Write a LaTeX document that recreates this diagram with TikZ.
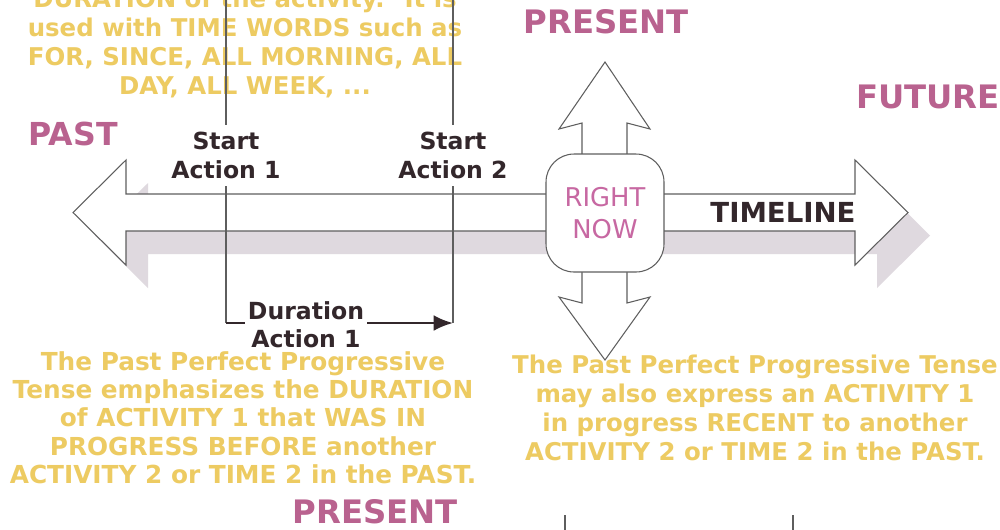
\documentclass[tikz,border=0pt]{standalone}
\usepackage{fontspec}
\setmainfont{DejaVu Sans}
\usetikzlibrary{arrows.meta}
\definecolor{pinkT}{HTML}{B9628F}
\definecolor{nowpink}{HTML}{C768A2}
\definecolor{gold}{HTML}{EDCB62}
\definecolor{darktxt}{HTML}{33272B}
\definecolor{outl}{HTML}{5E5E5E}
\definecolor{shadowcol}{HTML}{DFD9DF}
\begin{document}
\begin{tikzpicture}[x=0.02cm,y=-0.02cm,
  title/.style={font=\fontsize{18.4}{20}\selectfont\bfseries, text=pinkT, inner sep=0pt, anchor=base},
  note/.style={font=\fontsize{14.1}{16.44}\selectfont\bfseries, text=gold, align=center, inner sep=0pt, anchor=north},
  lbl/.style={font=\fontsize{13.4}{16.44}\selectfont\bfseries, text=darktxt, align=center, fill=white, inner xsep=2pt, inner ysep=4pt, anchor=north},
  outline/.style={draw=outl, line width=0.6pt, fill=white, line join=miter},
  guide/.style={draw=outl, line width=0.7pt},
  durline/.style={draw=darktxt, line width=1.4pt, -{Latex[length=11pt,width=9pt]}},
]
\useasboundingbox (0,0) rectangle (1000,529);
\clip (0,0) rectangle (1000,529);
\fill[white] (0,0) rectangle (1000,529);

% yellow notes
\node[note, font=\fontsize{13.9}{16.44}\selectfont\bfseries] (topnote) at (245,-11) {DURATION of the activity.~ It is\\used with TIME WORDS such as\\FOR, SINCE, ALL MORNING, ALL\\DAY, ALL WEEK, ...};
\node[note, font=\fontsize{14.1}{16.1}\selectfont\bfseries] (leftnote) at (243,351) {The Past Perfect Progressive\\Tense emphasizes the DURATION\\of ACTIVITY 1 that WAS IN\\PROGRESS BEFORE another\\ACTIVITY 2 or TIME 2 in the PAST.};

% shadow of timeline arrow
\fill[shadowcol, shift={(22,23)}] (73,212.5) -- (126,160) -- (126,194) -- (855,194) -- (855,160) -- (908,212.5) -- (855,265) -- (855,231) -- (126,231) -- (126,265) -- cycle;
% timeline arrow
\path[outline] (73,212.5) -- (126,160) -- (126,194) -- (855,194) -- (855,160) -- (908,212.5) -- (855,265) -- (855,231) -- (126,231) -- (126,265) -- cycle;
% up and down arrows
\path[outline] (582,160) -- (582,123) -- (559,129) -- (605,62) -- (650,129) -- (627,123) -- (627,160);
\path[outline] (582,266) -- (582,303) -- (559,297) -- (605,360) -- (650,297) -- (627,303) -- (627,266);

\node[note, font=\fontsize{13.9}{16.44}\selectfont\bfseries] (rightnote) at (755,355) {The Past Perfect Progressive Tense\\may also express an ACTIVITY 1\\in progress RECENT to another\\ACTIVITY 2 or TIME 2 in the PAST.};

% right now box
\node[draw=outl, fill=white, line width=0.6pt, rounded corners=0.56cm, minimum width=2.36cm, minimum height=2.36cm,
      font=\fontsize{14.7}{18.1}\selectfont, text=nowpink, align=center, inner sep=0pt] (now) at (605,213) {RIGHT\\NOW};

% guide lines
\coordinate (s1top) at (226,-5);
\coordinate (s1bot) at (226,323);
\coordinate (s2top) at (453,-5);
\coordinate (s2bot) at (453,323);
\draw[guide] (s1top) -- (s1bot);
\draw[guide] (s2top) -- (s2bot);
\draw[durline] (s1bot) -- (s2bot);

% labels
\node[lbl] (start1) at (226,125) {Start\\Action 1};
\node[lbl] (start2) at (453,125) {Start\\Action 2};
\node[lbl, inner xsep=1.5pt, inner ysep=1pt] (dur) at (306,299) {Duration\\Action 1};

% titles
\node[title] (present) at (606,33) {PRESENT};
\node[title] (future) at (928,108) {FUTURE};
\node[title, font=\fontsize{18}{20}\selectfont\bfseries] (past) at (73,145) {PAST};
\node[title] (present2) at (375,523) {PRESENT};
\node[font=\fontsize{15.7}{18}\selectfont\bfseries, text=darktxt, inner sep=0pt, anchor=base] (timeline) at (783,222) {TIMELINE};

% bottom short lines
\coordinate (b1) at (565,515);
\coordinate (b1e) at (565,535);
\coordinate (b2) at (793,515);
\coordinate (b2e) at (793,535);
\draw[guide] (b1) -- (b1e);
\draw[guide] (b2) -- (b2e);
\end{tikzpicture}
\end{document}
